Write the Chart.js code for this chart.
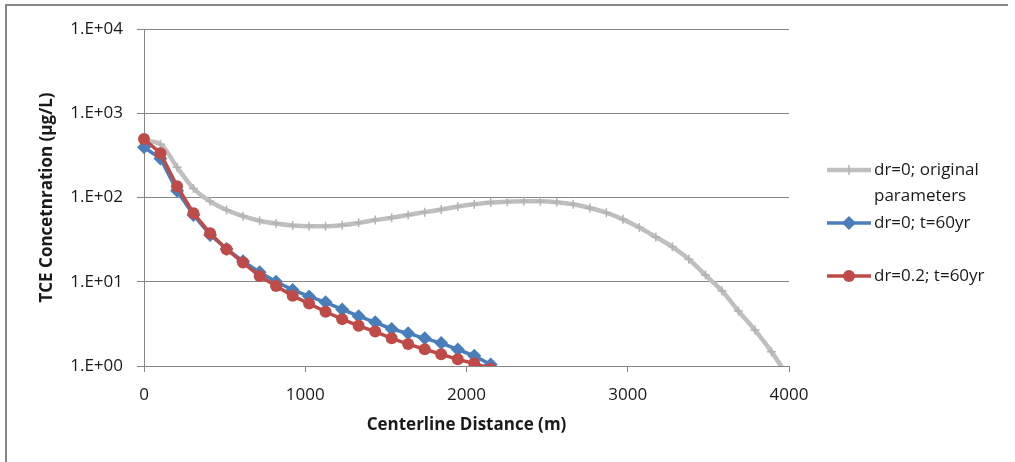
<!DOCTYPE html>
<html>
<head>
<meta charset="utf-8">
<script src="https://cdn.jsdelivr.net/npm/chart.js@4/dist/chart.umd.min.js"></script>
<style>
  body { margin: 0; background: #fff; }
  #wrap { width: 1015px; height: 462px; position: relative; }
</style>
</head>
<body>
<div id="wrap"><canvas id="tceChart" width="1015" height="462"></canvas></div>
<script>
// distance along the centerline (m)
const distance = [0, 102, 205, 307, 410, 512, 614, 717, 819, 922, 1024, 1126, 1229, 1331, 1434, 1536, 1638, 1741, 1843, 1946,
    2048, 2150, 2253, 2355, 2458, 2560, 2662, 2765, 2867, 2970, 3072, 3174, 3277, 3379, 3482, 3584, 3686, 3789, 3891, 3994];

// TCE concentration (ug/L)
const originalParams = [470, 430, 228, 128, 90, 71, 60, 53, 49, 46.5, 45.5, 45.5, 47, 50, 54, 57.5, 62, 67, 72, 78,
    83, 87, 89, 90, 90, 88, 83, 75, 66, 55, 44, 34, 26, 18.5, 12, 7.8, 4.5, 2.67, 1.48, 0.75];
const dr0t60 = [395, 290, 120, 62, 36, 24.5, 17.5, 13, 10, 8, 6.7, 5.7, 4.7, 3.9, 3.3, 2.75, 2.44, 2.13, 1.87, 1.57,
    1.32, 1.04, 0.8];
const dr02t60 = [495, 336, 136, 65, 37.7, 24.3, 16.9, 11.7, 8.9, 6.8, 5.5, 4.4, 3.6, 3.0, 2.56, 2.13, 1.82, 1.58, 1.38, 1.2,
    1.07, 0.93];

const seriesNames = ['dr=0; original parameters', 'dr=0; t=60yr', 'dr=0.2; t=60yr'];
const legendLines = [['dr=0; original', 'parameters'], ['dr=0; t=60yr'], ['dr=0.2; t=60yr']];

const xTicks = [0, 1000, 2000, 3000, 4000];
const yTicks = [1, 10, 100, 1000, 10000];
const yTickLabels = ['1.E+00', '1.E+01', '1.E+02', '1.E+03', '1.E+04'];

const toPoints = (vals) => vals.map((v, i) => ({ x: distance[i], y: v }));

const fontFamily = "'Open Sans', 'Noto Sans', sans-serif";
const gridColor = '#868686';
const textColor = '#1a1a1a';

const legendPlugin = {
    id: 'sideLegend',
    afterDraw(chart) {
        const c = chart.ctx;
        const area = chart.chartArea;
        const x0 = area.right + 38;
        const rows = [170, 223, 276];
        c.save();
        chart.data.datasets.forEach((ds, i) => {
            const y = rows[i];
            c.strokeStyle = ds.borderColor;
            c.lineWidth = ds.borderWidth;
            c.beginPath();
            c.moveTo(x0, y);
            c.lineTo(x0 + 44, y);
            c.stroke();
            const mx = x0 + 22;
            c.fillStyle = ds.pointBackgroundColor;
            c.strokeStyle = ds.pointBorderColor;
            if (ds.pointStyle === 'cross') {
                c.lineWidth = 1.5;
                c.beginPath();
                c.moveTo(mx, y - 5); c.lineTo(mx, y + 5);
                c.stroke();
            } else if (ds.pointStyle === 'rectRot') {
                const r = ds.pointRadius;
                c.beginPath();
                c.moveTo(mx, y - r); c.lineTo(mx + r, y); c.lineTo(mx, y + r); c.lineTo(mx - r, y);
                c.closePath();
                c.fill();
            } else {
                c.beginPath();
                c.arc(mx, y, ds.pointRadius, 0, Math.PI * 2);
                c.fill();
            }
            c.fillStyle = textColor;
            c.font = '17px ' + fontFamily;
            c.textBaseline = 'middle';
            c.textAlign = 'left';
            legendLines[i].forEach((t, k) => c.fillText(t, x0 + 47, y + k * 26));
        });
        // outer frame of the chart
        c.strokeStyle = gridColor;
        c.lineWidth = 2;
        c.beginPath();
        c.moveTo(6, 462);
        c.lineTo(6, 5);
        c.lineTo(1008, 5);
        c.stroke();
        c.restore();
    }
};

new Chart(document.getElementById('tceChart'), {
    type: 'line',
    data: {
        datasets: [{
            label: seriesNames[0],
            data: toPoints(originalParams),
            borderColor: '#bfbfbf',
            borderWidth: 4.5,
            pointStyle: 'cross',
            pointRadius: 4.5,
            pointBorderWidth: 1.5,
            pointBorderColor: '#b3b3b3',
            pointBackgroundColor: '#b3b3b3',
            cubicInterpolationMode: 'monotone',
            order: 3,
            clip: { left: 12, top: 12, right: 12, bottom: 0 }
        }, {
            label: seriesNames[1],
            data: toPoints(dr0t60),
            borderColor: '#4a7ebb',
            borderWidth: 3.5,
            pointStyle: 'rectRot',
            pointRadius: 7,
            pointBorderWidth: 0,
            pointBorderColor: '#4a7ebb',
            pointBackgroundColor: '#4a7ebb',
            tension: 0,
            order: 2,
            clip: { left: 12, top: 12, right: 12, bottom: 0 }
        }, {
            label: seriesNames[2],
            data: toPoints(dr02t60),
            borderColor: '#be4b48',
            borderWidth: 3.5,
            pointStyle: 'circle',
            pointRadius: 6,
            pointBorderWidth: 0,
            pointBorderColor: '#be4b48',
            pointBackgroundColor: '#be4b48',
            tension: 0,
            order: 1,
            clip: { left: 12, top: 12, right: 12, bottom: 0 }
        }]
    },
    options: {
        responsive: false,
        animation: false,
        events: [],
        layout: { padding: { left: 0, top: 29, right: 226, bottom: 0 } },
        plugins: {
            legend: { display: false },
            tooltip: { enabled: false }
        },
        scales: {
            x: {
                type: 'linear',
                min: 0,
                max: 4000,
                afterBuildTicks: (s) => { s.ticks = xTicks.map(v => ({ value: v })); },
                afterFit: (s) => { s.height = 96; },
                grid: { drawOnChartArea: false, color: gridColor, tickLength: 6 },
                border: { color: gridColor },
                ticks: {
                    padding: 13,
                    color: textColor,
                    font: { family: fontFamily, size: 17 },
                    maxRotation: 0,
                    callback: (v) => String(v)
                },
                title: {
                    display: true,
                    text: 'Centerline Distance (m)',
                    color: textColor,
                    font: { family: fontFamily, size: 17, weight: 'bold' },
                    padding: { top: 0, bottom: 27 }
                }
            },
            y: {
                type: 'logarithmic',
                min: 1,
                max: 10000,
                afterBuildTicks: (s) => { s.ticks = yTicks.map(v => ({ value: v })); },
                afterFit: (s) => { s.width = 144; },
                grid: { color: gridColor, tickLength: 7 },
                border: { color: gridColor },
                ticks: {
                    padding: 14,
                    color: textColor,
                    font: { family: fontFamily, size: 17 },
                    callback: (v, i) => yTickLabels[i]
                },
                title: {
                    display: true,
                    text: 'TCE Concetnration (µg/L)',
                    color: textColor,
                    font: { family: fontFamily, size: 17, weight: 'bold' },
                    padding: { top: 37, bottom: 0 }
                }
            }
        }
    },
    plugins: [legendPlugin]
});
</script>
</body>
</html>
